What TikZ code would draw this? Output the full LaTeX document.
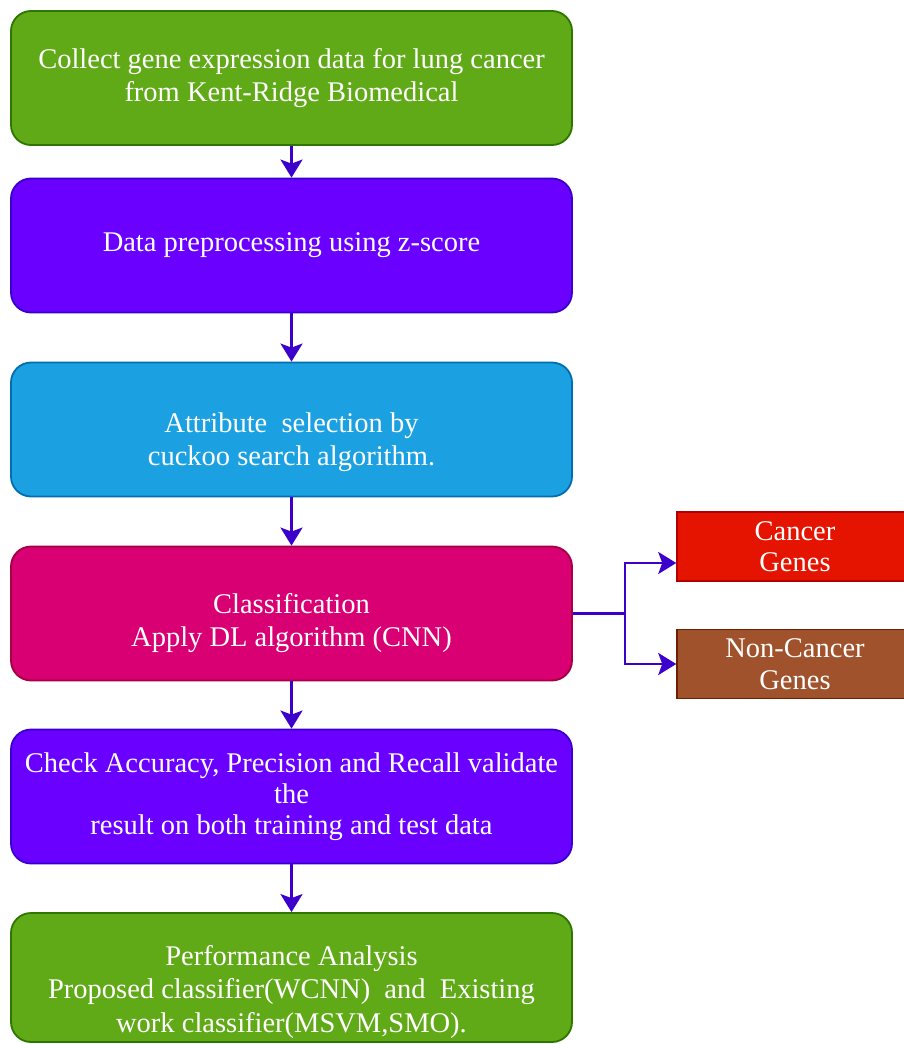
\documentclass[tikz,border=0pt]{standalone}
\usepackage{fontspec}
\setmainfont{Liberation Serif}
\newfontfamily\tms{Liberation Serif}
\usetikzlibrary{arrows.meta}
\definecolor{gfill}{HTML}{60A917}
\definecolor{gdraw}{HTML}{2D7600}
\definecolor{pfill}{HTML}{6A00FF}
\definecolor{pdraw}{HTML}{3700CC}
\definecolor{bfill}{HTML}{1BA1E2}
\definecolor{bdraw}{HTML}{006EAF}
\definecolor{mfill}{HTML}{D80073}
\definecolor{mdraw}{HTML}{A50040}
\definecolor{rfill}{HTML}{E51400}
\definecolor{rdraw}{HTML}{B20000}
\definecolor{nfill}{HTML}{A0522D}
\definecolor{ndraw}{HTML}{6D1F00}
\definecolor{arrc}{HTML}{3D00CC}
\begin{document}
\begin{tikzpicture}[x=1pt,y=-1pt,
  mainbox/.style={draw, line width=1.8pt, rounded corners=20pt, minimum width=561pt,
    minimum height=134pt, inner sep=0pt, text=white, align=center,
    font=\tms\fontsize{28.5}{33}\selectfont},
  sidebox/.style={draw, line width=1.5pt, minimum width=236pt, minimum height=69pt,
    inner sep=0pt, text=white, align=center, font=\tms\fontsize{28.5}{31.5}\selectfont},
  txt/.style={text=white, align=center, font=\tms\fontsize{28.5}{33}\selectfont},
  arr/.style={draw=arrc, line width=2.6pt, -{Stealth[length=18pt,width=22pt,inset=4pt]}},
  conn/.style={draw=arrc, line width=2.6pt}
]
\useasboundingbox (0,0) rectangle (903,1044);

\node[mainbox, fill=gfill, draw=gdraw] (b1) at (291.5,78) {Collect gene expression data for lung cancer\\from Kent-Ridge Biomedical};
\node[mainbox, fill=pfill, draw=pdraw] (b2) at (291.5,245.5) {Data preprocessing using z-score};
\node[mainbox, fill=bfill, draw=bdraw] (b3) at (291.5,429.5) {};
\node[txt] (t3) at (291.5,442) {Attribute\ \ selection by\\cuckoo search algorithm.};
\node[mainbox, fill=mfill, draw=mdraw] (b4) at (291.5,613.5) {};
\node[txt] (t4) at (291.5,623.5) {Classification\\Apply DL algorithm (CNN)};
\node[mainbox, fill=pfill, draw=pdraw, font=\tms\fontsize{28.5}{31}\selectfont] (b5) at (291.5,796.5) {Check Accuracy, Precision and Recall validate\\the\\result on both training and test data};
\node[mainbox, fill=gfill, draw=gdraw, minimum height=129pt] (b6) at (291.5,977.5) {};
\node[txt, font=\tms\fontsize{28.5}{33.5}\selectfont] (t6) at (291.5,991.5) {Performance Analysis\\Proposed classifier(WCNN)\ \ and\ \ Existing\\work classifier(MSVM,SMO).};

\node[sidebox, fill=rfill, draw=rdraw] (c1) at (795,546.5) {Cancer\\Genes};
\node[sidebox, fill=nfill, draw=ndraw] (c2) at (795,664) {Non-Cancer\\Genes};

\draw[arr] (b1.south) -- (b2.north);
\draw[arr] (b2.south) -- (b3.north);
\draw[arr] (b3.south) -- (b4.north);
\draw[arr] (b4.south) -- (b5.north);
\draw[arr] (b5.south) -- (b6.north);

\coordinate (j) at (625,613.5);
\draw[conn] (b4.east) -- (j);
\draw[arr] (j) |- ([yshift=-16.5pt]c1.west);
\draw[arr] (j) |- (c2.west);
\end{tikzpicture}
\end{document}
